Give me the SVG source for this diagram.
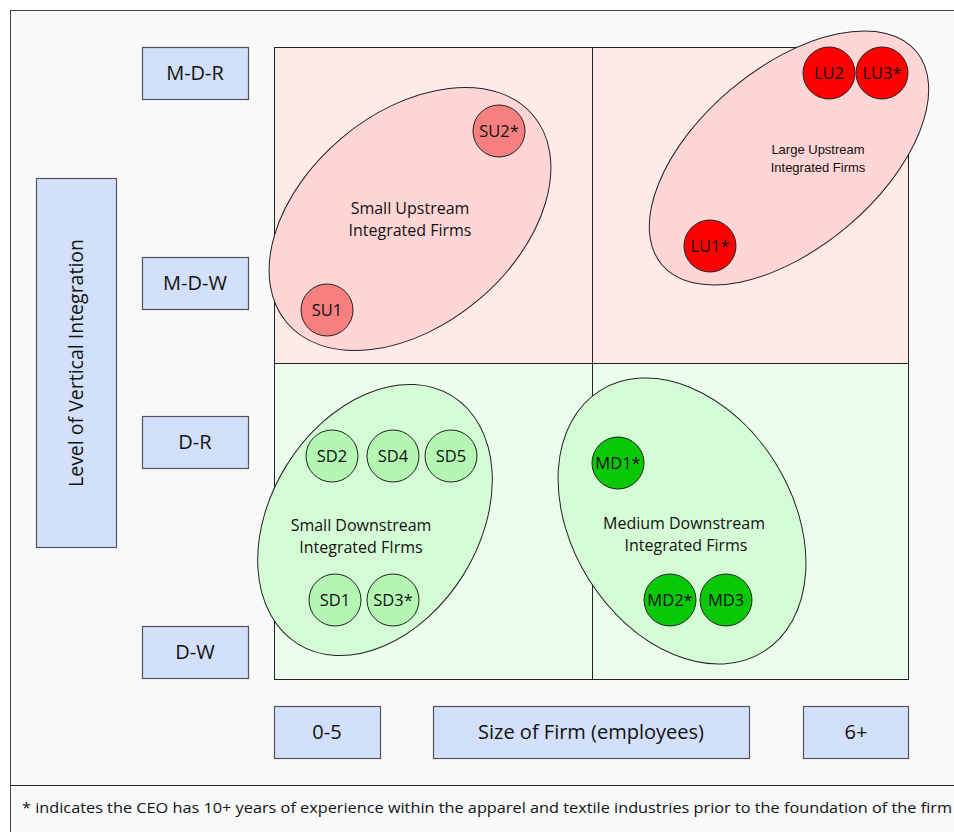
<svg xmlns="http://www.w3.org/2000/svg" width="954" height="832" viewBox="0 0 954 832">
  <style>
    .lbl { font-family: "Open Sans", "Noto Sans", sans-serif; fill: #111; text-anchor: middle; }
    .axis { fill: #d2e0fb; stroke: #555; stroke-width: 1.2; }
    .firm { stroke: #222; stroke-width: 1; }
    .grp { stroke: #222; stroke-width: 1; }
    .fl { font-size: 16.5px; }
    .al { font-size: 20px; }
    .gl { font-size: 16px; }
  </style>

  <!-- frame -->
  <rect x="10.5" y="10.5" width="960" height="840" fill="#f8f9fb" stroke="#444" stroke-width="1"/>
  <line x1="10" y1="785.5" x2="954" y2="785.5" stroke="#222" stroke-width="1"/>

  <!-- quadrant grid -->
  <g id="grid">
    <rect x="274.5" y="47.5" width="634" height="316" fill="#ffeaea"/>
    <rect x="274.5" y="363.5" width="634" height="316" fill="#ebfeeb"/>
    <rect x="274.5" y="47.5" width="634" height="632" fill="none" stroke="#222" stroke-width="1"/>
    <line x1="592.5" y1="47" x2="592.5" y2="680" stroke="#222" stroke-width="1"/>
    <line x1="274" y1="363.5" x2="909" y2="363.5" stroke="#222" stroke-width="1"/>
  </g>

  <!-- axis boxes -->
  <g id="axis-vertical">
    <rect class="axis" x="36.5" y="178.5" width="80" height="369"/>
    <text class="lbl" font-size="19.5" transform="translate(83,363) rotate(-90)">Level of Vertical Integration</text>
  </g>
  <g id="mdr"><rect class="axis" x="142.5" y="47.5" width="106" height="52"/><text class="lbl al" x="195" y="80">M-D-R</text></g>
  <g id="mdw"><rect class="axis" x="142.5" y="257.5" width="106" height="52"/><text class="lbl al" x="195" y="290">M-D-W</text></g>
  <g id="dr"><rect class="axis" x="142.5" y="416.5" width="106" height="52"/><text class="lbl al" x="195" y="449">D-R</text></g>
  <g id="dw"><rect class="axis" x="142.5" y="626.5" width="106" height="52"/><text class="lbl al" x="195" y="659">D-W</text></g>
  <g id="size-small"><rect class="axis" x="274.5" y="706.5" width="106" height="52"/><text class="lbl al" x="327" y="739">0-5</text></g>
  <g id="size-axis"><rect class="axis" x="433.5" y="706.5" width="316" height="52"/><text class="lbl al" x="591" y="739">Size of Firm (employees)</text></g>
  <g id="size-large"><rect class="axis" x="803.5" y="706.5" width="105" height="52"/><text class="lbl al" x="856" y="739">6+</text></g>

  <!-- small upstream group -->
  <g id="small-upstream">
    <ellipse class="grp" cx="410" cy="219" rx="161" ry="106" fill="#ffd5d5" transform="rotate(-40 410 219)"/>
    <text class="lbl gl" x="410" y="214">Small Upstream</text>
    <text class="lbl gl" x="410" y="236">Integrated Firms</text>
  </g>
  <g id="su1"><circle class="firm" cx="327" cy="310" r="26" fill="#f68080"/><text class="lbl fl" x="327" y="316">SU1</text></g>
  <g id="su2"><circle class="firm" cx="499" cy="131" r="26" fill="#f68080"/><text class="lbl fl" x="499" y="137">SU2*</text></g>

  <!-- large upstream group -->
  <g id="large-upstream">
    <ellipse class="grp" cx="789" cy="158" rx="166" ry="90" fill="#ffd5d5" transform="rotate(-40 789 158)"/>
    <text x="818" y="154" font-size="13" font-family="Liberation Sans, Arial, sans-serif" fill="#111" text-anchor="middle">Large Upstream</text>
    <text x="818" y="172" font-size="13" font-family="Liberation Sans, Arial, sans-serif" fill="#111" text-anchor="middle">Integrated Firms</text>
  </g>
  <g id="lu2"><circle class="firm" cx="829" cy="73" r="26" fill="#ff0000"/><text class="lbl fl" x="829" y="79">LU2</text></g>
  <g id="lu3"><circle class="firm" cx="882" cy="73" r="26" fill="#ff0000"/><text class="lbl fl" x="882" y="79">LU3*</text></g>
  <g id="lu1"><circle class="firm" cx="710" cy="246" r="26" fill="#ff0000"/><text class="lbl fl" x="710" y="252">LU1*</text></g>

  <!-- small downstream group -->
  <g id="small-downstream">
    <ellipse class="grp" cx="375" cy="520" rx="146" ry="104" fill="#d5fdd5" transform="rotate(-58 375 520)"/>
    <text class="lbl gl" x="361" y="531">Small Downstream</text>
    <text class="lbl gl" x="361" y="553">Integrated FIrms</text>
  </g>
  <g id="sd2"><circle class="firm" cx="332" cy="456" r="26" fill="#b3f7b3"/><text class="lbl fl" x="332" y="462">SD2</text></g>
  <g id="sd4"><circle class="firm" cx="393" cy="456" r="26" fill="#b3f7b3"/><text class="lbl fl" x="393" y="462">SD4</text></g>
  <g id="sd5"><circle class="firm" cx="451" cy="456" r="26" fill="#b3f7b3"/><text class="lbl fl" x="451" y="462">SD5</text></g>
  <g id="sd1"><circle class="firm" cx="335" cy="600" r="26" fill="#b3f7b3"/><text class="lbl fl" x="335" y="606">SD1</text></g>
  <g id="sd3"><circle class="firm" cx="393" cy="600" r="26" fill="#b3f7b3"/><text class="lbl fl" x="393" y="606">SD3*</text></g>

  <!-- medium downstream group -->
  <g id="medium-downstream">
    <ellipse class="grp" cx="682" cy="521" rx="154" ry="110" fill="#d5fdd5" transform="rotate(58 682 521)"/>
    <text class="lbl gl" x="684" y="529">Medium Downstream</text>
    <text class="lbl gl" x="686" y="551">Integrated Firms</text>
  </g>
  <g id="md1"><circle class="firm" cx="618" cy="463" r="26" fill="#08c808"/><text class="lbl fl" x="618" y="469">MD1*</text></g>
  <g id="md2"><circle class="firm" cx="670" cy="600" r="26" fill="#08c808"/><text class="lbl fl" x="670" y="606">MD2*</text></g>
  <g id="md3"><circle class="firm" cx="726" cy="600" r="26" fill="#08c808"/><text class="lbl fl" x="726" y="606">MD3</text></g>

  <!-- footnote -->
  <text x="22" y="813" font-size="14" font-family="Open Sans, Noto Sans, sans-serif" fill="#111" textLength="930" lengthAdjust="spacingAndGlyphs">* indicates the CEO has 10+ years of experience within the apparel and textile industries prior to the foundation of the firm</text>
</svg>
